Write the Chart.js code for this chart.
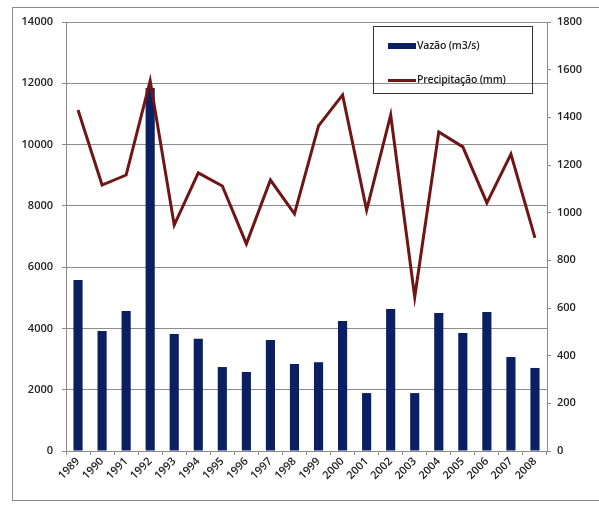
<!DOCTYPE html>
<html>
<head>
<meta charset="utf-8">
<script src="https://cdn.jsdelivr.net/npm/chart.js@4"></script>
<style>
  body { margin: 0; background: #fff; }
  #wrap { position: relative; width: 599px; height: 505px; }
  #frame { position: absolute; left: 12px; top: 7px; width: 600px; height: 492px; border: 1px solid #8a8a8a; }
  #legend { position: absolute; left: 373px; top: 26px; width: 158px; height: 66px; border: 1px solid #333;
            font-family: 'Open Sans', sans-serif; font-weight: 600; font-size: 10.5px; color: #222; letter-spacing: -0.2px; }
  .item { position: absolute; left: 14px; height: 14px; line-height: 14px; white-space: nowrap; }
  .sw { display: inline-block; width: 28px; vertical-align: middle; margin-right: 1px; }
</style>
</head>
<body>
<div id="wrap">
  <div id="frame"></div>
  <canvas id="chart" width="599" height="505"></canvas>
  <div id="legend">
    <div class="item" style="top:11px"><span class="sw" style="height:6px;background:#0b1f63"></span>Vazão (m3/s)</div>
    <div class="item" style="top:45px"><span class="sw" style="height:3px;background:#701515"></span>Precipitação (mm)</div>
  </div>
</div>
<script>
const years = ['1989', '1990', '1991', '1992', '1993', '1994', '1995', '1996', '1997', '1998',
               '1999', '2000', '2001', '2002', '2003', '2004', '2005', '2006', '2007', '2008'];
const vazao = [5580, 3920, 4570, 11850, 3820, 3660, 2740, 2580, 3620, 2840,
               2900, 4240, 1890, 4630, 1890, 4500, 3850, 4540, 3070, 2710];
const precipitacao = [1431, 1116, 1158, 1553, 948, 1167, 1112, 869, 1137, 995,
                      1364, 1494, 1011, 1410, 646, 1339, 1276, 1041, 1246, 894];

const font = { family: 'Open Sans', size: 11, weight: 600 };
const plain = v => String(v);

new Chart(document.getElementById('chart'), {
    data: {
        labels: years,
        datasets: [
            {
                type: 'line',
                label: 'Precipitação (mm)',
                data: precipitacao,
                yAxisID: 'y1',
                borderColor: '#701515',
                borderWidth: 3,
                pointRadius: 0,
                tension: 0,
                order: 0
            },
            {
                type: 'bar',
                label: 'Vazão (m3/s)',
                data: vazao,
                yAxisID: 'y',
                backgroundColor: '#0b1f63',
                categoryPercentage: 1,
                barPercentage: 0.38,
                order: 1
            }
        ]
    },
    options: {
        responsive: false,
        animation: false,
        layout: { padding: { top: 22, left: 0, right: 0, bottom: 0 } },
        plugins: { legend: { display: false }, tooltip: { enabled: false } },
        scales: {
            x: {
                offset: true,
                grid: { offset: true, drawOnChartArea: false, tickLength: 4, color: '#8c8c8c' },
                border: { color: '#8c8c8c' },
                ticks: { font: font, color: '#222', minRotation: 45, maxRotation: 45, padding: 0 },
                afterFit: s => { s.height = 54; }
            },
            y: {
                position: 'left',
                min: 0,
                max: 14000,
                grid: { color: '#8c8c8c', tickLength: 4 },
                border: { color: '#8c8c8c' },
                ticks: { stepSize: 2000, font: font, color: '#222', padding: 9, callback: plain },
                afterFit: s => { s.width = 66; }
            },
            y1: {
                position: 'right',
                min: 0,
                max: 1800,
                grid: { drawOnChartArea: false, tickLength: 4, color: '#8c8c8c' },
                border: { color: '#8c8c8c' },
                ticks: { stepSize: 200, font: font, color: '#222', padding: 6, callback: plain },
                afterFit: s => { s.width = 52; }
            }
        }
    }
});
</script>
</body>
</html>
